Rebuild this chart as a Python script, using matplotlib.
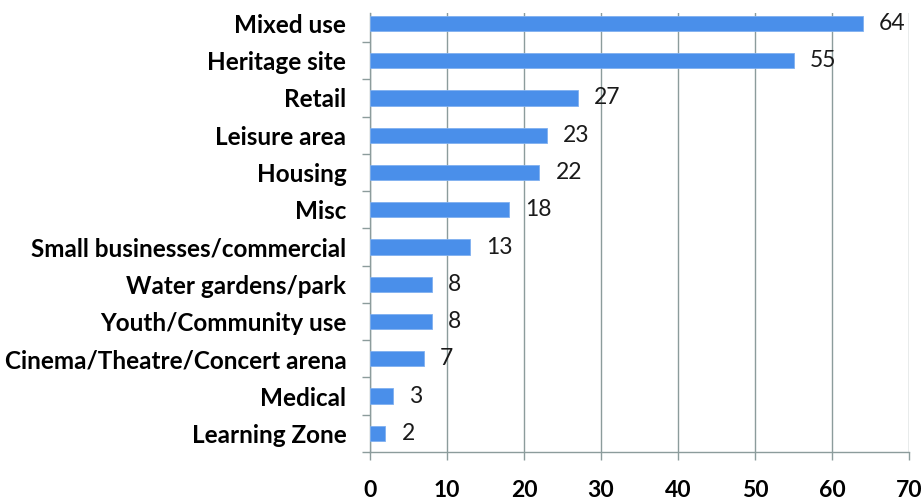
import matplotlib
matplotlib.use("Agg")
import matplotlib.pyplot as plt
import numpy as np

categories = ["Mixed use", "Heritage site", "Retail", "Leisure area", "Housing", "Misc",
              "Small businesses/commercial", "Water gardens/park", "Youth/Community use",
              "Cinema/Theatre/Concert arena", "Medical", "Learning Zone"]
counts = [64, 55, 27, 23, 22, 18, 13, 8, 8, 7, 3, 2]
x_ticks = [0, 10, 20, 30, 40, 50, 60, 70]

plt.rcParams['font.family'] = ['Lato', 'DejaVu Sans']

fig = plt.figure(figsize=(9.21, 5.04), dpi=100)
ax = fig.add_axes([0.4017, 0.1032, 0.5853, 0.8710])

grid_col = "#8C9C9C"
bar_col = "#4A8FEA"

n = len(categories)
y = np.arange(n)[::-1]
ax.barh(y, counts, height=0.41, color=bar_col, edgecolor="#7FB0F0", linewidth=0.6, zorder=3)

for yi, v in zip(y, counts):
    ax.text(v + 2.1, yi, str(v), va="center", ha="left", fontsize=16.5, color="#1a1a1a", zorder=4)

ax.set_xlim(0, 70)
ax.set_ylim(-0.5, n - 0.72)
ax.set_xticks(x_ticks)
ax.set_xticklabels([str(t) for t in x_ticks], fontsize=16.5, fontweight="bold")
ax.set_yticks(y)
ax.set_yticklabels(categories, fontsize=17.5, fontweight="bold")
ax.set_yticks(np.arange(-0.5, n - 1, 1.0), minor=True)

ax.tick_params(axis="y", which="major", length=0, pad=17)
ax.tick_params(axis="y", which="minor", length=6, color=grid_col, width=1, direction="out")
ax.tick_params(axis="x", which="major", length=6, color=grid_col, width=1, direction="out", pad=14)

ax.grid(axis="x", color=grid_col, linewidth=1, zorder=0)
for s in ["top", "right"]:
    ax.spines[s].set_visible(False)
for s in ["left", "bottom"]:
    ax.spines[s].set_color(grid_col)
    ax.spines[s].set_linewidth(1)

fig.savefig("out.png", dpi=100)
